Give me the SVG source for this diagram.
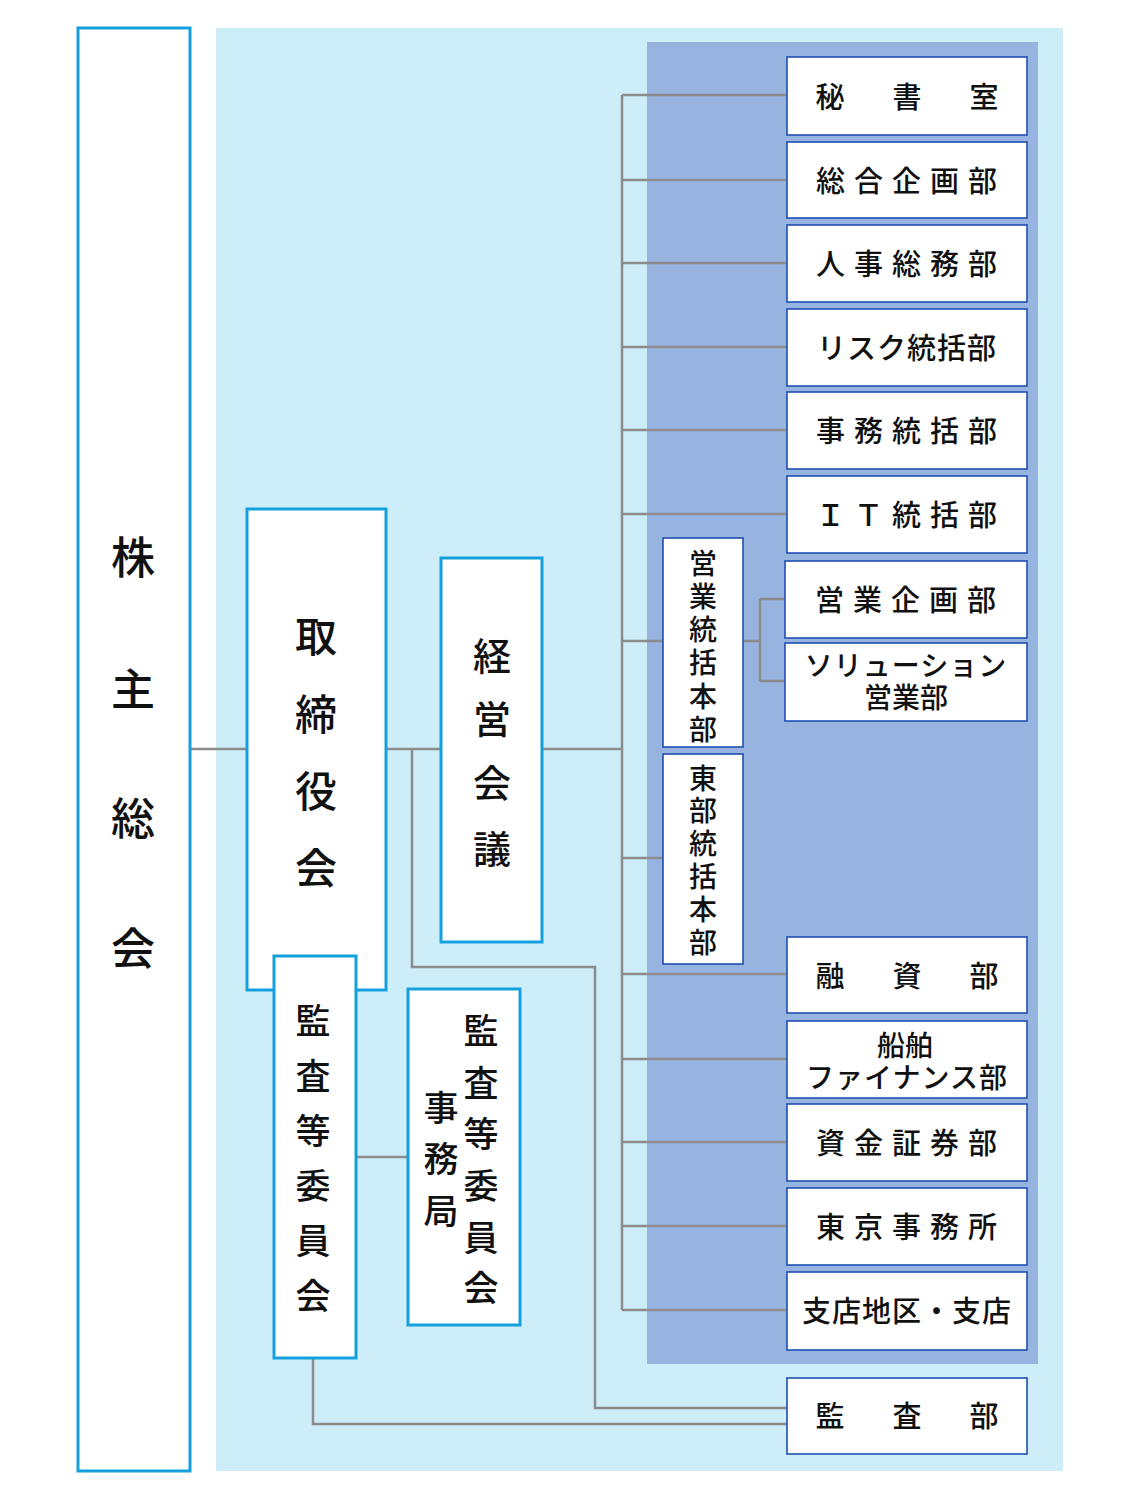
<svg xmlns="http://www.w3.org/2000/svg" width="1125" height="1500" viewBox="0 0 1125 1500">
<style>
text{font-family:"Noto Sans CJK JP","Noto Sans",sans-serif;font-weight:500;fill:#111;text-anchor:middle;dominant-baseline:central}
.cb{fill:#fff;stroke:#14a0dc;stroke-width:3}
.db{fill:#fff;stroke:#1e4fb4;stroke-width:1.6}
.ln{fill:none;stroke:#8c8c8c;stroke-width:2.5}
.r{font-size:29px}
.t{font-size:28px}
.v{font-size:28px}
</style>
<rect x="0" y="0" width="1125" height="1500" fill="#fff"/>
<rect x="216" y="28" width="847" height="1443" fill="#cdeef8"/>
<rect x="647" y="42" width="391" height="1322" fill="#97b3e0"/>
<g id="connectors">
<path class="ln" d="M190 749H247M386 749H441M542 749H622M622 95V1310"/>
<path class="ln" d="M622 95H787M622 180H787M622 263H787M622 347H787M622 430H787M622 514H787M622 641H663M622 858H663M622 974H787M622 1059H787M622 1142H787M622 1226H787M622 1310H787"/>
<path class="ln" d="M743 641H760M760 599V681M760 599H785M760 681H785"/>
<path class="ln" d="M412 749V967H595V1408H787M313 1358V1424H787M356 1157H408"/>
</g>
<g id="kabunushi"><rect class="cb" x="78" y="28" width="112" height="1443"/>
<g style="font-size:44px"><text x="133" y="555">株</text><text x="133" y="687">主</text><text x="133" y="816">総</text><text x="133" y="946">会</text></g></g>
<g id="torishimariyaku"><rect class="cb" x="247" y="509" width="139" height="481"/>
<g style="font-size:42px"><text x="316" y="633">取</text><text x="316" y="711">締</text><text x="316" y="788">役</text><text x="316" y="865">会</text></g></g>
<g id="keiei"><rect class="cb" x="441" y="558" width="101" height="384"/>
<g style="font-size:38px"><text x="492" y="653">経</text><text x="492" y="716">営</text><text x="492" y="780">会</text><text x="492" y="846">議</text></g></g>
<g id="kansa-iinkai"><rect class="cb" x="274" y="956" width="82" height="402"/>
<g style="font-size:35px"><text x="313" y="1018">監</text><text x="313" y="1073">査</text><text x="313" y="1128">等</text><text x="313" y="1183">委</text><text x="313" y="1238">員</text><text x="313" y="1293">会</text></g></g>
<g id="kansa-jimukyoku"><rect class="cb" x="408" y="989" width="112" height="336"/>
<g style="font-size:35px"><text x="481" y="1028">監</text><text x="481" y="1080">査</text><text x="481" y="1131">等</text><text x="481" y="1183">委</text><text x="481" y="1235">員</text><text x="481" y="1285">会</text>
<text x="441" y="1105">事</text><text x="441" y="1156">務</text><text x="441" y="1208">局</text></g></g>
<g id="eigyo-honbu"><rect class="db" x="663" y="538" width="80" height="209"/>
<g class="v"><text x="703" y="562">営</text><text x="703" y="595">業</text><text x="703" y="628">統</text><text x="703" y="661">括</text><text x="703" y="695">本</text><text x="703" y="728">部</text></g></g>
<g id="tobu-honbu"><rect class="db" x="663" y="754" width="80" height="210"/>
<g class="v"><text x="703" y="777">東</text><text x="703" y="809">部</text><text x="703" y="842">統</text><text x="703" y="875">括</text><text x="703" y="908">本</text><text x="703" y="941">部</text></g></g>
<g id="hisho"><rect class="db" x="787" y="57" width="240" height="78"/><text class="r" x="907" y="95" style="letter-spacing:48px" dx="24">秘書室</text></g>
<g id="sogo"><rect class="db" x="787" y="142" width="240" height="76"/><text class="r" x="907" y="179" style="letter-spacing:9px" dx="4">総合企画部</text></g>
<g id="jinji"><rect class="db" x="787" y="225" width="240" height="77"/><text class="r" x="907" y="262" style="letter-spacing:9px" dx="4">人事総務部</text></g>
<g id="risk"><rect class="db" x="787" y="309" width="240" height="77"/><text class="r" x="907" y="346" style="letter-spacing:1px">リスク統括部</text></g>
<g id="jimu"><rect class="db" x="787" y="392" width="240" height="77"/><text class="r" x="907" y="429" style="letter-spacing:9px" dx="4">事務統括部</text></g>
<g id="it"><rect class="db" x="787" y="476" width="240" height="77"/><text class="r" x="907" y="513" style="letter-spacing:9px" dx="4">ＩＴ統括部</text></g>
<g id="eigyo-kikaku"><rect class="db" x="785" y="561" width="242" height="77"/><text class="r" x="906" y="598" style="letter-spacing:9px" dx="4">営業企画部</text></g>
<g id="solution"><rect class="db" x="785" y="643" width="242" height="78"/><text class="t" x="906" y="664" style="letter-spacing:1px">ソリューション</text><text class="t" x="906" y="696">営業部</text></g>
<g id="yushi"><rect class="db" x="787" y="937" width="240" height="76"/><text class="r" x="907" y="974" style="letter-spacing:48px" dx="24">融資部</text></g>
<g id="senpaku"><rect class="db" x="787" y="1021" width="240" height="77"/><text class="t" x="905" y="1044">船舶</text><text class="t" x="907" y="1076" style="letter-spacing:1px">ファイナンス部</text></g>
<g id="shikin"><rect class="db" x="787" y="1104" width="240" height="77"/><text class="r" x="907" y="1141" style="letter-spacing:9px" dx="4">資金証券部</text></g>
<g id="tokyo"><rect class="db" x="787" y="1188" width="240" height="77"/><text class="r" x="907" y="1225" style="letter-spacing:9px" dx="4">東京事務所</text></g>
<g id="shiten"><rect class="db" x="787" y="1272" width="240" height="78"/><text class="r" x="907" y="1309" style="letter-spacing:1px">支店地区・支店</text></g>
<g id="kansabu"><rect class="db" x="787" y="1378" width="240" height="76"/><text class="r" x="907" y="1414" style="letter-spacing:48px" dx="24">監査部</text></g>
</svg>
